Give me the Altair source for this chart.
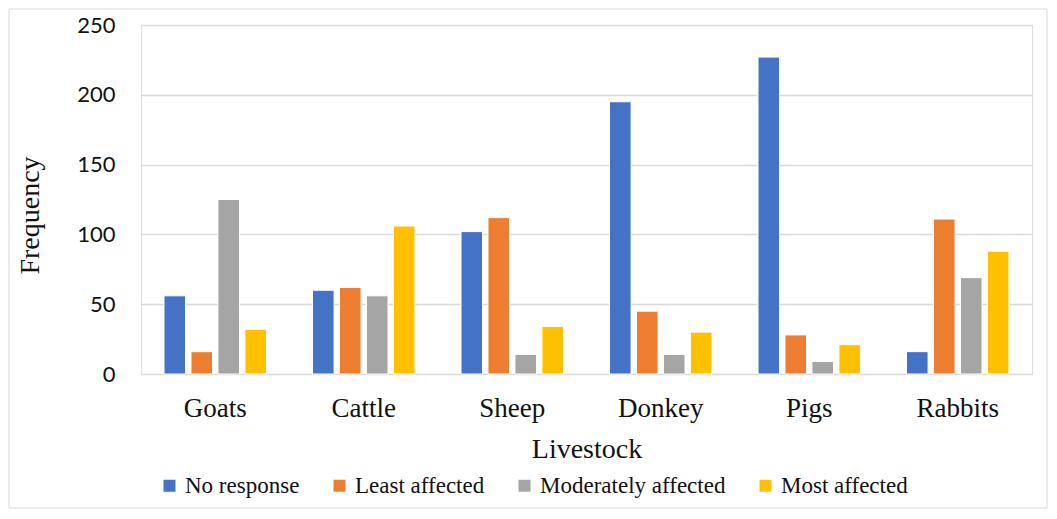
import altair as alt
import pandas as pd

categories = ["Goats", "Cattle", "Sheep", "Donkey", "Pigs", "Rabbits"]
series = ["No response", "Least affected", "Moderately affected", "Most affected"]
no_response = [56, 60, 102, 195, 227, 16]
least_affected = [16, 62, 112, 45, 28, 111]
moderately_affected = [125, 56, 14, 14, 9, 69]
most_affected = [32, 106, 34, 30, 21, 88]
colors = ["#4472C4", "#ED7D31", "#A5A5A5", "#FFC000"]
y_ticks = [0, 50, 100, 150, 200, 250]

rows = []
for s, vals in zip(series, [no_response, least_affected, moderately_affected, most_affected]):
    for c, v in zip(categories, vals):
        rows.append({"Livestock": c, "Response": s, "Frequency": v})
df = pd.DataFrame(rows)

W, H = 891, 349

bars = alt.Chart(df).mark_bar(stroke="white", strokeWidth=1).encode(
    x=alt.X("Livestock:N", sort=categories,
            scale=alt.Scale(paddingInner=0.31, paddingOuter=0.155),
            axis=alt.Axis(title="Livestock", labelAngle=0, domain=False, ticks=False,
                          labelFont="Liberation Serif", labelFontSize=27, labelColor="#111",
                          labelPadding=21, titleFont="Liberation Serif", titleFontSize=28,
                          titleFontWeight="normal", titleColor="#111", titlePadding=14)),
    xOffset=alt.XOffset("Response:N", sort=series, scale=alt.Scale(paddingInner=0.2)),
    y=alt.Y("Frequency:Q", scale=alt.Scale(domain=[0, 250]),
            axis=alt.Axis(title="Frequency", values=y_ticks, domain=False, ticks=False,
                          grid=True, gridColor="#d9d9d9", gridWidth=1.5,
                          labelFont="Lato", labelFontSize=22, labelColor="#111",
                          labelPadding=26, titleFont="Liberation Serif", titleFontSize=28,
                          titleFontWeight="normal", titleColor="#111", titlePadding=32,
                          titleY=190)),
    color=alt.Color("Response:N", sort=series,
                    scale=alt.Scale(domain=series, range=colors),
                    legend=alt.Legend(title=None, orient="none", legendX=17, legendY=449,
                                      direction="horizontal", symbolType="square",
                                      symbolSize=144, symbolStrokeWidth=0,
                                      labelFont="Liberation Serif", labelFontSize=23,
                                      labelLimit=400,
                                      labelColor="#111", labelOffset=4, columnPadding=28)),
)

frame = pd.DataFrame({"a": [0]})
FL, FR, FT, FB = -132, 906, -16, 483
top = alt.Chart(frame).mark_rule(color="#d9d9d9", strokeWidth=1).encode(
    x=alt.value(FL), x2=alt.value(FR), y=alt.value(FT))
bottom = alt.Chart(frame).mark_rule(color="#d9d9d9", strokeWidth=1).encode(
    x=alt.value(FL), x2=alt.value(FR), y=alt.value(FB))
left = alt.Chart(frame).mark_rule(color="#d9d9d9", strokeWidth=1).encode(
    x=alt.value(FL), y=alt.value(FT), y2=alt.value(FB))
right = alt.Chart(frame).mark_rule(color="#d9d9d9", strokeWidth=1).encode(
    x=alt.value(FR), y=alt.value(FT), y2=alt.value(FB))

chart = alt.layer(top, bottom, left, right, bars).properties(
    width=W, height=H,
    autosize=alt.AutoSizeParams(type="none"),
    padding={"left": 133, "top": 17, "right": 17, "bottom": 136},
).configure_view(strokeWidth=0, stroke="transparent").configure_legend(
    labelFont="Liberation Serif", labelFontSize=23, labelLimit=400
).configure(background="white")

chart.save("out.html", embed_options={"renderer": "svg", "actions": False})
